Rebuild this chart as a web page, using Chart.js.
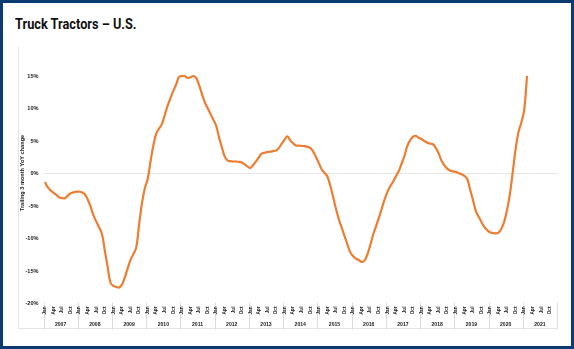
<!DOCTYPE html>
<html>
<head>
<meta charset="utf-8">
<script src="https://cdn.jsdelivr.net/npm/chart.js@4.4.1/dist/chart.umd.min.js"></script>
<style>
  html, body { margin: 0; padding: 0; background: #fff; }
  #wrap { position: relative; width: 574px; height: 349px; overflow: hidden; }
  #border { position: absolute; left: 0; top: 0; width: 574px; height: 349px; box-sizing: border-box; border: 3px solid #0c3a73; }
  #frame { position: absolute; left: 18px; top: 47px; width: 539px; height: 282px; box-sizing: border-box;
           border-left: 1px solid #e4e4e4; border-bottom: 1px solid #e4e4e4; }
  #title { position: absolute; left: 15px; top: 15px; font: bold 15px Roboto, sans-serif; color: #111;
           transform: scaleX(0.85); transform-origin: left top; white-space: nowrap; }
  canvas { position: absolute; left: 0; top: 0; }
</style>
</head>
<body>
<div id="wrap">
  <div id="border"></div>
  <div id="frame"></div>
  <div id="title">Truck Tractors – U.S.</div>
  <canvas id="chart" width="574" height="349"></canvas>
</div>
<script>
// Anni (secondo livello dell'asse) e mesi
const years = ['2007', '2008', '2009', '2010', '2011', '2012', '2013', '2014',
               '2015', '2016', '2017', '2018', '2019', '2020', '2021'];
const months = ['Jan', 'Feb', 'Mar', 'Apr', 'May', 'Jun', 'Jul', 'Aug', 'Sep', 'Oct', 'Nov', 'Dec'];
const monthTicks = ['Jan', 'Apr', 'Jul', 'Oct'];
const yTicks = [-20, -15, -10, -5, 0, 5, 10, 15];

// Variazione YoY trailing 3 mesi (%), gen 2007 - feb 2021
const yoyChange = [
  -1.3, -2.1, -2.6, -2.95, -3.3, -3.65, -3.8, -3.8, -3.4, -3.05, -2.9, -2.8,      // 2007
  -2.8, -2.9, -3.2, -4.0, -5.1, -6.4, -7.4, -8.3, -9.3, -11.9, -14.4, -16.8,      // 2008
  -17.3, -17.45, -17.55, -17.1, -16.0, -14.6, -13.3, -12.4, -11.4, -7.9, -4.6, -2.3, // 2009
  -0.9, 1.8, 4.3, 6.1, 6.9, 7.6, 9.0, 10.4, 11.6, 12.7, 13.7, 14.85,              // 2010
  15.0, 15.0, 14.7, 14.8, 15.0, 14.7, 13.65, 12.3, 11.0, 10.1, 9.2, 8.3,          // 2011
  7.4, 5.6, 4.1, 2.65, 2.0, 1.9, 1.85, 1.85, 1.8, 1.7, 1.4, 1.1,                  // 2012
  0.85, 1.3, 1.85, 2.5, 3.05, 3.2, 3.3, 3.35, 3.45, 3.55, 3.9, 4.6,               // 2013
  5.2, 5.7, 5.1, 4.65, 4.3, 4.3, 4.25, 4.2, 4.1, 3.95, 3.4, 2.55,                 // 2014
  1.6, 0.65, 0.1, -0.45, -1.85, -3.55, -5.4, -7.0, -8.3, -9.6, -10.85, -12.1,     // 2015
  -12.7, -13.1, -13.3, -13.6, -13.4, -12.5, -11.1, -9.5, -8.2, -6.9, -5.5, -4.1,  // 2016
  -2.9, -2.0, -1.3, -0.45, 0.35, 1.5, 2.65, 4.2, 5.1, 5.65, 5.8, 5.5,             // 2017
  5.3, 5.0, 4.75, 4.6, 4.5, 3.95, 3.1, 2.0, 1.25, 0.75, 0.45, 0.33,               // 2018
  0.25, 0.05, -0.1, -0.35, -0.8, -2.4, -4.0, -5.7, -6.6, -7.45, -8.2, -8.7,       // 2019
  -9.05, -9.15, -9.2, -9.1, -8.5, -7.4, -5.6, -3.15, 0.25, 3.8, 6.4, 7.85,        // 2020
  9.8, 15.0                                                                        // 2021
];

const labels = years.flatMap(y => months.map(m => m + ' ' + y));
const fontFamily = '"Liberation Sans", Arial, sans-serif';

// Separatori degli anni (sotto le etichette)
const yearLines = {
  id: 'yearLines',
  beforeDraw(chart) {
    const { ctx, chartArea } = chart;
    const x = chart.scales.x;
    const x2 = chart.scales.x2;
    const half = (x.getPixelForValue(1) - x.getPixelForValue(0)) / 2;
    ctx.save();
    ctx.strokeStyle = '#dcdcdc';
    ctx.lineWidth = 1;
    for (let k = 0; k <= years.length; k++) {
      const px = k < years.length ? x.getPixelForValue(k * 12) - half : chartArea.right;
      ctx.beginPath();
      ctx.moveTo(Math.round(px) + 0.5, chartArea.bottom - 1);
      ctx.lineTo(Math.round(px) + 0.5, x2.bottom);
      ctx.stroke();
    }
    ctx.restore();
  },
  afterDraw(chart) {
    // titolo dell'asse Y
    const ctx = chart.ctx;
    ctx.save();
    ctx.translate(22, 173);
    ctx.rotate(-Math.PI / 2);
    ctx.font = 'bold 5.6px ' + fontFamily;
    ctx.fillStyle = '#1a1a1a';
    ctx.textAlign = 'center';
    ctx.textBaseline = 'middle';
    ctx.fillText('Trailing 3 month YoY change', 0, 0);
    ctx.restore();
  }
};

new Chart(document.getElementById('chart'), {
  type: 'line',
  data: {
    labels: labels,
    datasets: [{
      data: yoyChange,
      borderColor: '#ed7d31',
      borderWidth: 2.2,
      pointRadius: 0,
      tension: 0.4,
      clip: false,
      fill: false
    }]
  },
  options: {
    responsive: false,
    animation: false,
    layout: { padding: { left: 18, right: 17, top: 76, bottom: 19.5 } },
    plugins: { legend: { display: false }, tooltip: { enabled: false } },
    scales: {
      x: {
        type: 'category',
        offset: true,
        weight: 0,
        grid: { display: false, drawTicks: false },
        border: { display: false },
        ticks: {
          autoSkip: false,
          maxRotation: 90,
          minRotation: 90,
          padding: 3,
          color: '#1a1a1a',
          font: { family: fontFamily, size: 4.7, weight: 'bold' },
          callback: (v, i) => (i % 3 === 0 ? monthTicks[(i % 12) / 3] : '')
        },
        afterFit: s => { s.height = 14; }
      },
      x2: {
        type: 'category',
        labels: years,
        position: 'bottom',
        offset: true,
        weight: 1,
        grid: { display: false, drawTicks: false },
        border: { display: false },
        ticks: {
          autoSkip: false, maxRotation: 0, padding: 4, color: '#1a1a1a',
          font: { family: fontFamily, size: 5.1, weight: 'bold' }
        },
        afterFit: s => { s.height = 12; }
      },
      y: {
        min: -20,
        max: 15,
        afterBuildTicks: s => { s.ticks = yTicks.map(v => ({ value: v })); },
        grid: {
          drawTicks: false,
          color: c => (c.tick && c.tick.value === 0 ? '#e6e6e6' : 'rgba(0,0,0,0)')
        },
        border: { display: false },
        ticks: {
          padding: 5, color: '#1a1a1a',
          font: { family: fontFamily, size: 5.6, weight: 'bold' },
          callback: v => v + '%'
        },
        afterFit: s => { s.width = 25.5; }
      }
    }
  },
  plugins: [yearLines]
});
</script>
</body>
</html>
